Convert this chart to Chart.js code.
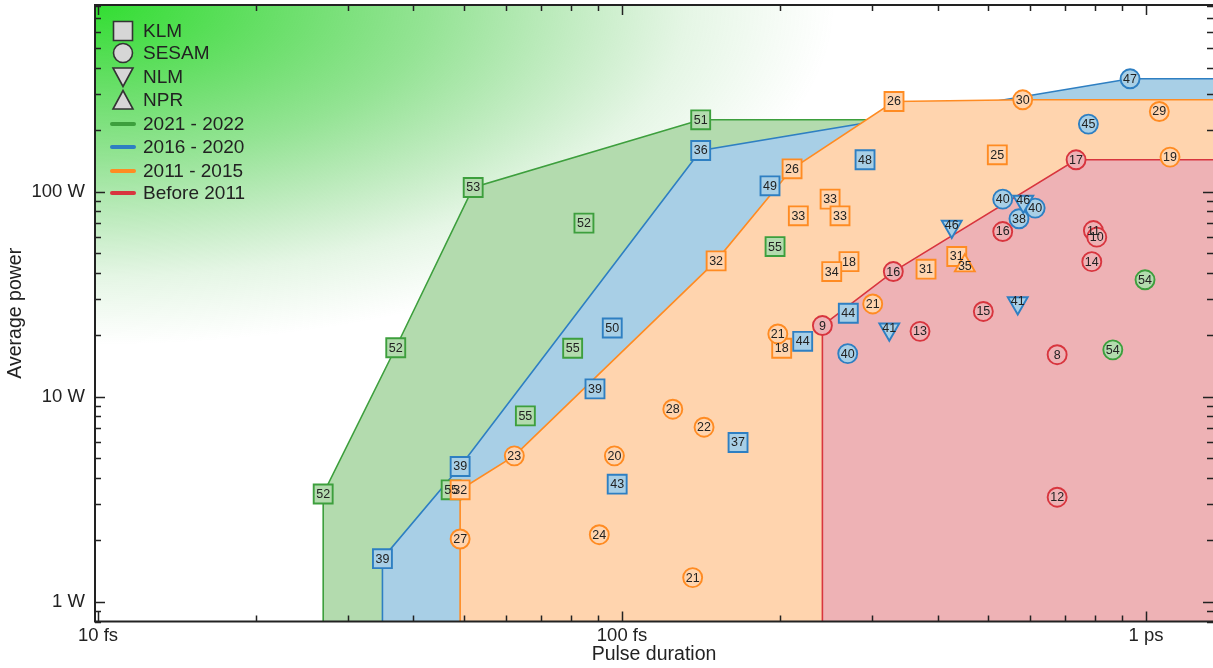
<!DOCTYPE html>
<html>
<head>
<meta charset="utf-8">
<script src="https://cdn.jsdelivr.net/npm/chart.js@4.4.1/dist/chart.umd.min.js"></script>
<style>
  html, body { margin: 0; padding: 0; background: #fff; }
  canvas { display: block; }
</style>
</head>
<body>
<canvas id="chart" width="1213" height="668"></canvas>
<script>
// --- axis ranges (fs, W) and tick labels ---
const X_MIN = 9.87, X_MAX = 1342;
const Y_MIN = 0.8, Y_MAX = 812;
const X_TICKS = [10, 100, 1000];
const X_TICK_LABELS = ['10 fs', '100 fs', '1 ps'];
const Y_TICKS = [1, 10, 100];
const Y_TICK_LABELS = ['1 W', '10 W', '100 W'];

const ERAS = ['2021 - 2022', '2016 - 2020', '2011 - 2015', 'Before 2011'];
const METHODS = ['KLM', 'SESAM', 'NLM', 'NPR'];

// --- 2021 - 2022 ---
const greenFs     = [26.9, 37.0, 52.0, 84.6, 141.3, 80.5, 65.4, 47.2, 195.9, 995.5, 864.1];
const greenW      = [3.35, 17.3, 104.6, 70.1, 223.7, 17.2, 8.05, 3.51, 53.9, 37.1, 16.9];
const greenMethod = ['KLM', 'KLM', 'KLM', 'KLM', 'KLM', 'KLM', 'KLM', 'KLM', 'KLM', 'SESAM', 'SESAM'];
const greenRef    = [52, 52, 53, 52, 51, 55, 55, 55, 55, 54, 54];

// --- 2016 - 2020 ---
const blueFs     = [34.9, 49.1, 88.8, 95.8, 97.9, 141.3, 166.5, 191.6, 221.2, 270.3, 290.9,
                    269.6, 532.7, 614.3, 572.2, 776.2, 932.2, 323.6, 425.8, 583.1, 569.0];
const blueW      = [1.62, 4.56, 10.9, 21.6, 3.74, 158.5, 5.97, 106.6, 18.6, 25.5, 142.8,
                    16.2, 91.8, 83.0, 73.6, 213.2, 354.6, 21.3, 67.5, 89.4, 28.6];
const blueMethod = ['KLM', 'KLM', 'KLM', 'KLM', 'KLM', 'KLM', 'KLM', 'KLM', 'KLM', 'KLM', 'KLM',
                    'SESAM', 'SESAM', 'SESAM', 'SESAM', 'SESAM', 'SESAM', 'NLM', 'NLM', 'NLM', 'NLM'];
const blueRef    = [39, 39, 39, 50, 43, 36, 37, 49, 44, 44, 48, 40, 40, 40, 38, 45, 47, 41, 46, 46, 41];

// --- 2011 - 2015 ---
const orangeFs     = [49.1, 151.2, 211.1, 330.4, 249.5, 217.0, 260.6, 271.1, 251.3, 201.7, 380.3, 435.3, 520.2,
                      451, 581.6, 1060, 1111, 300.9, 198.3, 136.4, 143.4, 125, 62.3, 96.7, 90.5, 49.1];
const orangeW      = [3.51, 45.9, 129.0, 274.8, 91.8, 76.1, 76.1, 45.5, 40.7, 17.2, 41.8, 48.2, 151.0,
                      43.5, 280.1, 245.6, 147.2, 28.3, 20.2, 1.31, 7.09, 8.68, 5.14, 5.14, 2.12, 2.02];
const orangeMethod = ['KLM', 'KLM', 'KLM', 'KLM', 'KLM', 'KLM', 'KLM', 'KLM', 'KLM', 'KLM', 'KLM', 'KLM', 'KLM',
                      'NPR', 'SESAM', 'SESAM', 'SESAM', 'SESAM', 'SESAM', 'SESAM', 'SESAM', 'SESAM', 'SESAM',
                      'SESAM', 'SESAM', 'SESAM'];
const orangeRef    = [32, 32, 26, 26, 33, 33, 33, 18, 34, 18, 31, 31, 25, 35, 30, 29, 19, 21, 21, 21, 22, 28, 23, 20, 24, 27];

// --- Before 2011 ---
const redFs     = [241.2, 329.4, 370.4, 489.2, 532.7, 735.3, 676.6, 676.6, 793.4, 805.3, 787.9];
const redW      = [22.2, 40.7, 20.8, 26.0, 63.8, 142.8, 16.0, 3.23, 64.5, 59.9, 45.5];
const redMethod = ['SESAM', 'SESAM', 'SESAM', 'SESAM', 'SESAM', 'SESAM', 'SESAM', 'SESAM', 'SESAM', 'SESAM', 'SESAM'];
const redRef    = [9, 16, 13, 15, 16, 17, 8, 12, 11, 10, 14];

// --- envelope outlines of each period (filled down to the axis) ---
const greenEdgeFs  = [26.9, 26.9, 37.0, 52.0, 141.3, X_MAX];
const greenEdgeW   = [Y_MIN, 3.35, 17.3, 104.6, 223.7, 223.7];
const blueEdgeFs   = [34.9, 34.9, 49.1, 141.3, 932.2, X_MAX];
const blueEdgeW    = [Y_MIN, 1.62, 4.56, 158.5, 354.6, 354.6];
const orangeEdgeFs = [49.1, 49.1, 62.3, 151.2, 211.1, 330.4, 581.6, X_MAX];
const orangeEdgeW  = [Y_MIN, 3.51, 5.14, 45.9, 129.0, 274.8, 280.1, 280.1];
const redEdgeFs    = [241.2, 241.2, 329.4, 735.3, X_MAX];
const redEdgeW     = [Y_MIN, 22.2, 40.7, 142.8, 142.8];

// styles
const LINE_COLORS = ['#3d9f3d', '#2e7fc2', '#ff8b22', '#d8353e'];
const FILL_COLORS = ['#b3dbae', '#a8cfe6', '#ffd4ae', '#eeb2b5'];
const TEXT = '#222';
const FONT = "'Liberation Sans', Arial, sans-serif";
const RADIUS = { KLM: 13.4, SESAM: 9.5, NLM: 11.5, NPR: 11.5 };

const ERA_SETS = [
  { fs: greenFs, w: greenW, method: greenMethod, ref: greenRef, edgeFs: greenEdgeFs, edgeW: greenEdgeW },
  { fs: blueFs, w: blueW, method: blueMethod, ref: blueRef, edgeFs: blueEdgeFs, edgeW: blueEdgeW },
  { fs: orangeFs, w: orangeW, method: orangeMethod, ref: orangeRef, edgeFs: orangeEdgeFs, edgeW: orangeEdgeW },
  { fs: redFs, w: redW, method: redMethod, ref: redRef, edgeFs: redEdgeFs, edgeW: redEdgeW }
];

function styleOf(m) { return m === 'KLM' ? 'rect' : m === 'SESAM' ? 'circle' : 'triangle'; }

const datasets = [];
ERA_SETS.forEach((s, i) => {
  datasets.push({
    type: 'line',
    label: ERAS[i] + ' envelope',
    data: s.edgeFs.map((x, k) => ({ x: x, y: s.edgeW[k] })),
    fill: 'start',
    tension: 0,
    borderColor: LINE_COLORS[i],
    backgroundColor: FILL_COLORS[i],
    borderWidth: 1.6,
    pointRadius: 0,
    order: 10 - i
  });
});
ERA_SETS.forEach((s, i) => {
  datasets.push({
    label: ERAS[i],
    data: s.fs.map((x, k) => ({ x: x, y: s.w[k] })),
    showLine: false,
    pointStyle: c => styleOf(s.method[c.dataIndex]),
    pointRotation: c => s.method[c.dataIndex] === 'NLM' ? 180 : 0,
    pointRadius: c => RADIUS[s.method[c.dataIndex]],
    pointBackgroundColor: FILL_COLORS[i],
    pointBorderColor: LINE_COLORS[i],
    pointBorderWidth: 1.9,
    order: 5 - i,
    refs: s.ref,
    methods: s.method
  });
});

// green glow in the upper-left corner
const glowPlugin = {
  id: 'glow',
  beforeDatasetsDraw(chart) {
    const { ctx, chartArea: a } = chart;
    const rx = 740, ry = 340;
    ctx.save();
    ctx.beginPath();
    ctx.rect(a.left, a.top, a.right - a.left, a.bottom - a.top);
    ctx.clip();
    ctx.translate(a.left, a.top);
    ctx.scale(1, ry / rx);
    const g = ctx.createRadialGradient(0, 0, 0, 0, 0, rx);
    g.addColorStop(0, 'rgba(50,222,50,1)');
    g.addColorStop(0.45, 'rgba(60,205,60,0.55)');
    g.addColorStop(0.8, 'rgba(70,190,70,0.14)');
    g.addColorStop(1, 'rgba(80,190,80,0)');
    ctx.fillStyle = g;
    ctx.fillRect(0, 0, rx, rx);
    ctx.restore();
  }
};

// reference numbers inside the markers
const refPlugin = {
  id: 'refs',
  afterDatasetsDraw(chart) {
    const ctx = chart.ctx;
    ctx.save();
    ctx.font = '12.5px ' + FONT;
    ctx.fillStyle = TEXT;
    ctx.textAlign = 'center';
    ctx.textBaseline = 'middle';
    chart.data.datasets.forEach((ds, i) => {
      if (!ds.refs) return;
      chart.getDatasetMeta(i).data.forEach((pt, k) => {
        const dy = ds.methods[k] === 'NLM' ? -1 : ds.methods[k] === 'NPR' ? 1 : 0.5;
        ctx.fillText(String(ds.refs[k]), pt.x, pt.y + dy);
      });
    });
    ctx.restore();
  }
};

// box axes with inward ticks on all sides
const framePlugin = {
  id: 'frame',
  afterDraw(chart) {
    const { ctx, chartArea: a, scales } = chart;
    const x = scales.x, y = scales.y;
    ctx.save();
    ctx.strokeStyle = TEXT;
    ctx.lineWidth = 1.5;
    ctx.beginPath();
    for (let d = 1; d <= 1000; d *= 10) {
      for (let k = 1; k <= 9; k++) {
        const v = d * k;
        if (v < X_MIN || v > X_MAX) continue;
        const px = Math.round(x.getPixelForValue(v)) + 0.5;
        const len = k === 1 ? 10 : 6;
        ctx.moveTo(px, a.bottom); ctx.lineTo(px, a.bottom - len);
        ctx.moveTo(px, a.top); ctx.lineTo(px, a.top + len);
      }
    }
    for (let d = 0.1; d <= 100; d *= 10) {
      for (let k = 1; k <= 9; k++) {
        const v = d * k;
        if (v < Y_MIN || v > Y_MAX) continue;
        const py = Math.round(y.getPixelForValue(v)) + 0.5;
        const len = k === 1 ? 10 : 6;
        ctx.moveTo(a.left, py); ctx.lineTo(a.left + len, py);
        ctx.moveTo(a.right, py); ctx.lineTo(a.right - len, py);
      }
    }
    ctx.stroke();
    ctx.lineWidth = 2;
    ctx.beginPath();
    ctx.moveTo(a.right, a.top); ctx.lineTo(a.left, a.top);
    ctx.lineTo(a.left, a.bottom); ctx.lineTo(a.right, a.bottom);
    ctx.stroke();
    ctx.restore();
  }
};

// legend inside the plot, upper left
const legendPlugin = {
  id: 'cornerLegend',
  afterDraw(chart) {
    const ctx = chart.ctx;
    const sx = 123, tx = 143;
    const rows = [31, 53, 77, 100, 124, 147, 171, 193];
    ctx.save();
    ctx.font = '19px ' + FONT;
    ctx.textBaseline = 'middle';
    ctx.textAlign = 'left';
    ctx.fillStyle = TEXT;
    METHODS.forEach((m, i) => {
      const cy = rows[i];
      ctx.save();
      ctx.fillStyle = '#d6d6d6';
      ctx.strokeStyle = '#333';
      ctx.lineWidth = 1.6;
      ctx.beginPath();
      if (m === 'KLM') ctx.rect(sx - 9.5, cy - 9.5, 19, 19);
      else if (m === 'SESAM') ctx.arc(sx, cy, 9.5, 0, Math.PI * 2);
      else if (m === 'NLM') { ctx.moveTo(sx - 10, cy - 9); ctx.lineTo(sx + 10, cy - 9); ctx.lineTo(sx, cy + 9.5); ctx.closePath(); }
      else { ctx.moveTo(sx - 10, cy + 9); ctx.lineTo(sx + 10, cy + 9); ctx.lineTo(sx, cy - 9.5); ctx.closePath(); }
      ctx.fill();
      ctx.stroke();
      ctx.restore();
      ctx.fillText(m, tx, cy + 1);
    });
    ERAS.forEach((e, i) => {
      const cy = rows[4 + i];
      ctx.save();
      ctx.strokeStyle = LINE_COLORS[i];
      ctx.lineWidth = 4;
      ctx.lineCap = 'round';
      ctx.beginPath();
      ctx.moveTo(sx - 11, cy); ctx.lineTo(sx + 11, cy);
      ctx.stroke();
      ctx.restore();
      ctx.fillText(e, tx, cy + 1);
    });
    ctx.restore();
  }
};

Chart.defaults.font.family = FONT;
Chart.defaults.color = TEXT;

new Chart(document.getElementById('chart').getContext('2d'), {
  type: 'scatter',
  data: { datasets: datasets },
  options: {
    responsive: false,
    animation: false,
    layout: { autoPadding: false, padding: { top: 5, left: 0, right: 0, bottom: 0 } },
    plugins: { legend: { display: false }, tooltip: { enabled: false } },
    scales: {
      x: {
        type: 'logarithmic',
        min: X_MIN, max: X_MAX,
        afterBuildTicks: s => { s.ticks = X_TICKS.map(v => ({ value: v })); },
        afterFit: s => { s.height = 46.5; s.paddingLeft = 0; s.paddingRight = 0; },
        ticks: {
          callback: v => X_TICK_LABELS[X_TICKS.indexOf(v)],
          font: { size: 18.5 }, color: TEXT, padding: 3, maxRotation: 0, autoSkip: false
        },
        grid: { display: false, drawTicks: false },
        border: { display: false },
        title: { display: true, text: 'Pulse duration', font: { size: 19.5 }, color: TEXT, padding: { top: 0, bottom: 2 } }
      },
      y: {
        type: 'logarithmic',
        min: Y_MIN, max: Y_MAX,
        afterBuildTicks: s => { s.ticks = Y_TICKS.map(v => ({ value: v })); },
        afterFit: s => { s.width = 95; s.paddingTop = 0; s.paddingBottom = 0; },
        ticks: {
          callback: v => Y_TICK_LABELS[Y_TICKS.indexOf(v)],
          font: { size: 18.5 }, color: TEXT, padding: 10, autoSkip: false
        },
        grid: { display: false, drawTicks: false },
        border: { display: false },
        title: { display: true, text: 'Average power', font: { size: 19.5 }, color: TEXT, padding: { top: 4, bottom: 0 } }
      }
    }
  },
  plugins: [glowPlugin, refPlugin, framePlugin, legendPlugin]
});
</script>
</body>
</html>
